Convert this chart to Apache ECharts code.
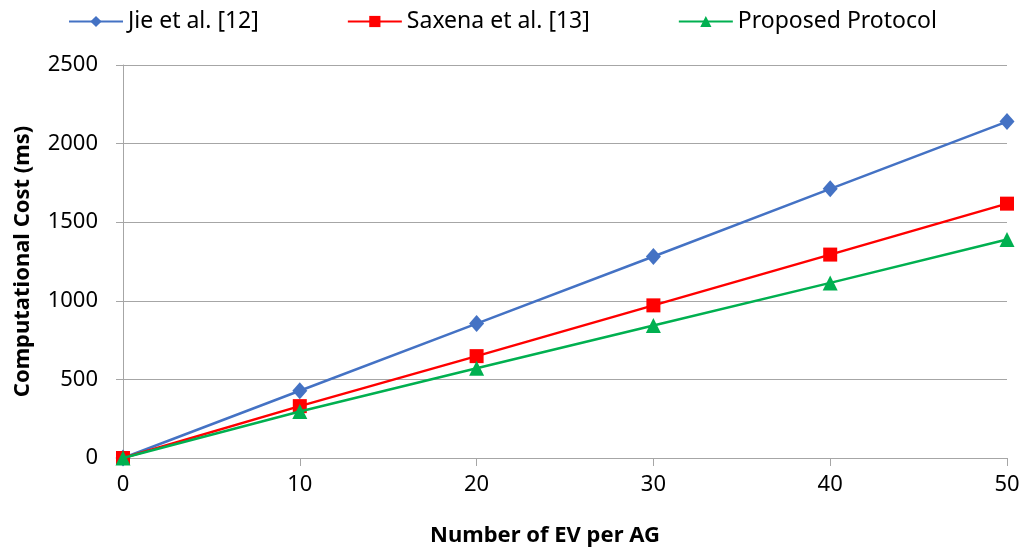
<!DOCTYPE html>
<html>
<head>
<meta charset="utf-8">
<script src="https://cdn.jsdelivr.net/npm/echarts@6/dist/echarts.min.js"></script>
<style>
  html, body { margin: 0; padding: 0; background: #fff; overflow: hidden; }
  #chart { width: 1027px; height: 552px; }
</style>
</head>
<body>
<div id="chart"></div>
<script>
// Computational cost vs. number of EVs per aggregator
const evCounts = [0, 10, 20, 30, 40, 50];
const jieCost = [0, 428, 855, 1282, 1712, 2140];
const saxenaCost = [0, 330, 648, 971, 1294, 1618];
const proposedCost = [0, 296, 571, 843, 1114, 1390];
const seriesNames = ['Jie et al. [12]', 'Saxena et al. [13]', 'Proposed Protocol'];
const xTicks = { min: 0, max: 50, step: 10 };
const yTicks = { min: 0, max: 2500, step: 500 };

const FONT = '"Noto Sans", "Open Sans", sans-serif';
const AXIS_GREY = '#a6a6a6';

function pairs(values) {
  return evCounts.map((x, i) => [x, values[i]]);
}

const chart = echarts.init(document.getElementById('chart'), null, { renderer: 'canvas' });

chart.setOption({
  animation: false,
  backgroundColor: '#ffffff',
  textStyle: { fontFamily: FONT },
  grid: { left: 123, width: 884, top: 65, height: 393, containLabel: false },
  legend: {
    top: 5,
    left: 63,
    itemWidth: 54,
    itemHeight: 14,
    itemGap: 88,
    itemTextGap: 4,
    textStyle: { fontFamily: FONT, fontSize: 23, color: '#000' },
    data: seriesNames
  },
  xAxis: {
    type: 'value',
    min: xTicks.min,
    max: xTicks.max,
    interval: xTicks.step,
    name: 'Number of EV per AG',
    nameLocation: 'middle',
    nameGap: 67,
    nameTextStyle: {
      fontFamily: FONT, fontSize: 22, fontWeight: 'bold', color: '#000',
      padding: [0, 40, 0, 0]
    },
    axisLine: { show: true, lineStyle: { color: AXIS_GREY, width: 1 } },
    axisTick: { show: true, inside: false, length: 8, lineStyle: { color: AXIS_GREY } },
    axisLabel: { fontFamily: FONT, fontSize: 22, color: '#000', margin: 16 },
    splitLine: { show: false }
  },
  yAxis: {
    type: 'value',
    min: yTicks.min,
    max: yTicks.max,
    interval: yTicks.step,
    name: 'Computational Cost (ms)',
    nameLocation: 'middle',
    nameGap: 89,
    nameTextStyle: { fontFamily: FONT, fontSize: 22, fontWeight: 'bold', color: '#000' },
    axisLine: { show: true, lineStyle: { color: AXIS_GREY, width: 1 } },
    axisTick: { show: true, inside: false, length: 7, lineStyle: { color: AXIS_GREY } },
    axisLabel: {
      fontFamily: FONT, fontSize: 22, color: '#000', margin: 25,
      formatter: (v) => String(v)
    },
    splitLine: { show: true, lineStyle: { color: AXIS_GREY, width: 1 } }
  },
  series: [
    {
      name: seriesNames[0],
      type: 'line',
      data: pairs(jieCost),
      symbol: 'diamond',
      symbolSize: [15, 17],
      itemStyle: { color: '#4472c4' },
      lineStyle: { color: '#4472c4', width: 2.5 },
      z: 3
    },
    {
      name: seriesNames[1],
      type: 'line',
      data: pairs(saxenaCost),
      symbol: 'rect',
      symbolSize: 14,
      itemStyle: { color: '#ff0000' },
      lineStyle: { color: '#ff0000', width: 2.5 },
      z: 4
    },
    {
      name: seriesNames[2],
      type: 'line',
      data: pairs(proposedCost),
      symbol: 'triangle',
      symbolSize: 15,
      itemStyle: { color: '#00b050' },
      lineStyle: { color: '#00b050', width: 2.5 },
      z: 5
    }
  ]
});
</script>
</body>
</html>
